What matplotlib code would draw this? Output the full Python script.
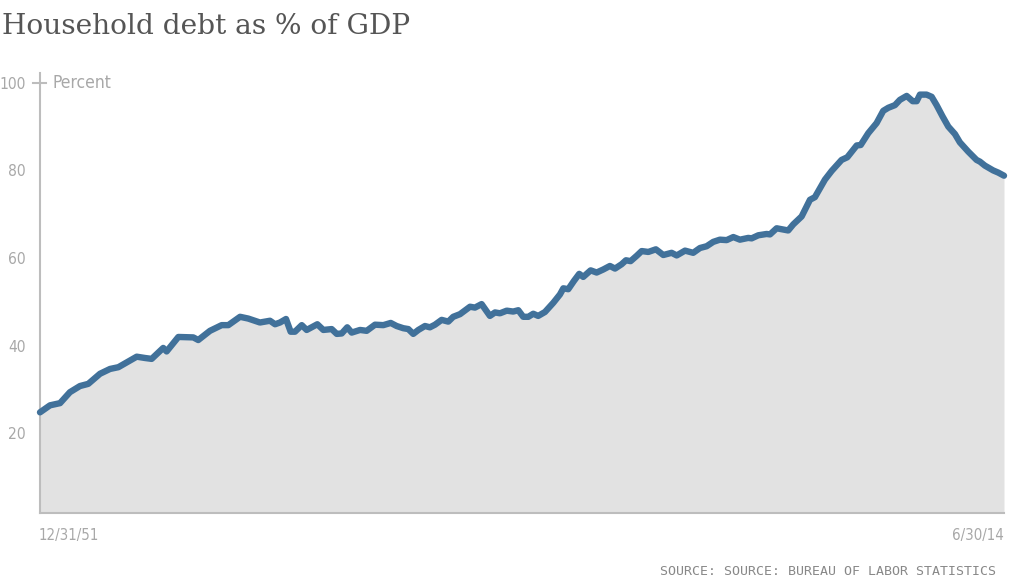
import matplotlib
matplotlib.use("Agg")
import matplotlib.pyplot as plt
from matplotlib import font_manager as fm

# Decimal-year positions and household debt as % of GDP
years = [1952.00, 1952.65, 1953.30, 1953.94, 1954.59, 1955.13, 1955.89, 1956.54, 1957.08, 1957.83,
         1958.27, 1958.81, 1959.24, 1959.99, 1960.21, 1960.97, 1961.94, 1962.26, 1963.02, 1963.78,
         1964.21, 1964.97, 1965.50, 1966.26, 1966.59, 1966.91, 1967.24, 1967.56, 1967.95, 1968.25,
         1968.53, 1968.97, 1969.29, 1969.61, 1969.98, 1970.37, 1970.91, 1971.24, 1971.56, 1971.92,
         1972.21, 1972.75, 1973.18, 1973.72, 1974.26, 1974.74, 1975.12, 1975.55, 1975.88, 1976.20,
         1976.53, 1976.96, 1977.28, 1977.61, 1978.04, 1978.47, 1978.79, 1979.23, 1979.88, 1980.20,
         1980.63, 1981.17, 1981.50, 1981.82, 1982.26, 1982.68, 1983.01, 1983.33, 1983.66, 1983.98,
         1984.30, 1984.74, 1985.28, 1985.71, 1985.93, 1986.25, 1986.62, 1986.96, 1987.22, 1987.70,
         1988.09, 1988.52, 1988.95, 1989.28, 1989.71, 1989.99, 1990.29, 1990.68, 1991.01, 1991.44,
         1991.93, 1992.41, 1992.95, 1993.28, 1993.82, 1994.35, 1994.79, 1995.22, 1995.65, 1996.08,
         1996.52, 1996.95, 1997.38, 1997.92, 1998.14, 1998.57, 1999.11, 1999.33, 1999.76, 2000.51,
         2000.84, 2001.38, 2001.92, 2002.24, 2002.89, 2003.33, 2003.97, 2004.34, 2004.95, 2005.21,
         2005.70, 2006.24, 2006.67, 2007.00, 2007.43, 2007.75, 2008.19, 2008.58, 2008.84, 2009.05,
         2009.48, 2009.81, 2010.13, 2010.52, 2010.89, 2011.32, 2011.64, 2012.18, 2012.72, 2012.94,
         2013.26, 2013.80, 2014.13, 2014.50]
debt_pct = [24.8, 26.4, 26.9, 29.4, 30.8, 31.3, 33.6, 34.7, 35.1, 36.6,
            37.5, 37.2, 37.0, 39.5, 38.7, 42.0, 41.9, 41.3, 43.4, 44.7,
            44.7, 46.6, 46.2, 45.3, 45.5, 45.7, 44.9, 45.3, 46.1, 43.2,
            43.2, 44.7, 43.6, 44.2, 44.9, 43.6, 43.8, 42.7, 42.8, 44.2,
            43.0, 43.6, 43.4, 44.8, 44.7, 45.2, 44.5, 44.0, 43.8, 42.7,
            43.6, 44.5, 44.2, 44.8, 45.9, 45.5, 46.6, 47.2, 48.9, 48.7,
            49.5, 46.8, 47.6, 47.4, 48.0, 47.8, 48.1, 46.6, 46.6, 47.3,
            46.8, 47.7, 49.8, 51.7, 53.1, 52.9, 54.8, 56.4, 55.7, 57.2,
            56.7, 57.4, 58.2, 57.6, 58.6, 59.5, 59.3, 60.5, 61.6, 61.4,
            62.0, 60.7, 61.2, 60.6, 61.7, 61.2, 62.3, 62.7, 63.7, 64.2,
            64.1, 64.8, 64.2, 64.6, 64.5, 65.2, 65.5, 65.4, 66.8, 66.3,
            67.7, 69.5, 73.3, 73.9, 77.9, 79.9, 82.4, 83.0, 85.7, 85.8,
            88.5, 90.8, 93.6, 94.3, 94.9, 96.1, 97.0, 95.8, 95.8, 97.3,
            97.3, 96.8, 94.9, 92.3, 90.0, 88.3, 86.4, 84.3, 82.4, 82.0,
            81.1, 80.0, 79.5, 78.8]

y_ticks = [20, 40, 60, 80, 100]
x_tick_labels = ["12/31/51", "6/30/14"]
title = "Household debt as % of GDP"
unit_label = "Percent"
source = "SOURCE: SOURCE: BUREAU OF LABOR STATISTICS"

LINE = "#41719a"
FILL = "#e2e2e2"
AXIS = "#bdbdbd"
TICK = "#a8a8a8"

tick_fp = fm.FontProperties(family="DejaVu Sans", stretch="condensed", size=11.2)
unit_fp = fm.FontProperties(family="DejaVu Sans", stretch="condensed", size=12.5)
date_fp = fm.FontProperties(family="DejaVu Sans", stretch="condensed", size=10.8)

fig = plt.figure(figsize=(10.24, 5.76), dpi=100)
ax = fig.add_axes([40/1024, 1 - 512.7/576, (1004-40)/1024, (512.7-72.7)/576])

ax.fill_between(years, debt_pct, 0, color=FILL, lw=0, zorder=1)
ax.plot(years, debt_pct, color=LINE, lw=4.6, solid_joinstyle="round",
        solid_capstyle="round", zorder=3, clip_on=False)

ax.set_xlim(years[0], years[-1])
ax.set_ylim(1.9, 102.3)

for s in ["top", "right"]:
    ax.spines[s].set_visible(False)
for s in ["left", "bottom"]:
    ax.spines[s].set_color(AXIS)
    ax.spines[s].set_linewidth(1.5)

ax.set_yticks(y_ticks)
ax.set_yticklabels([str(v) for v in y_ticks], color=TICK)
for lab in ax.get_yticklabels():
    lab.set_fontproperties(tick_fp)
ax.tick_params(axis="y", length=0, pad=10)
ax.set_xticks([])

# small cross tick at 100
ax.plot([-0.0075, 0.0065], [100, 100], transform=ax.get_yaxis_transform(),
        color=AXIS, lw=1.5, clip_on=False, zorder=4)

ax.text(0.013, 100, unit_label, transform=ax.get_yaxis_transform(),
        fontproperties=unit_fp, color=TICK, va="center", ha="left")

ax.text(-0.002, -0.034, x_tick_labels[0], transform=ax.transAxes,
        fontproperties=date_fp, color=TICK, ha="left", va="top")
ax.text(1.0, -0.034, x_tick_labels[1], transform=ax.transAxes,
        fontproperties=date_fp, color=TICK, ha="right", va="top")

fig.text(2/1024, 1 - 26/576, title, family="DejaVu Serif", fontsize=20.2,
         color="#555555", ha="left", va="center")

fig.text(660/1024, 1 - 565/576, source, family="DejaVu Sans Mono", fontsize=9.5,
         color="#888888", ha="left", va="top")

fig.savefig("out.png", dpi=100)
